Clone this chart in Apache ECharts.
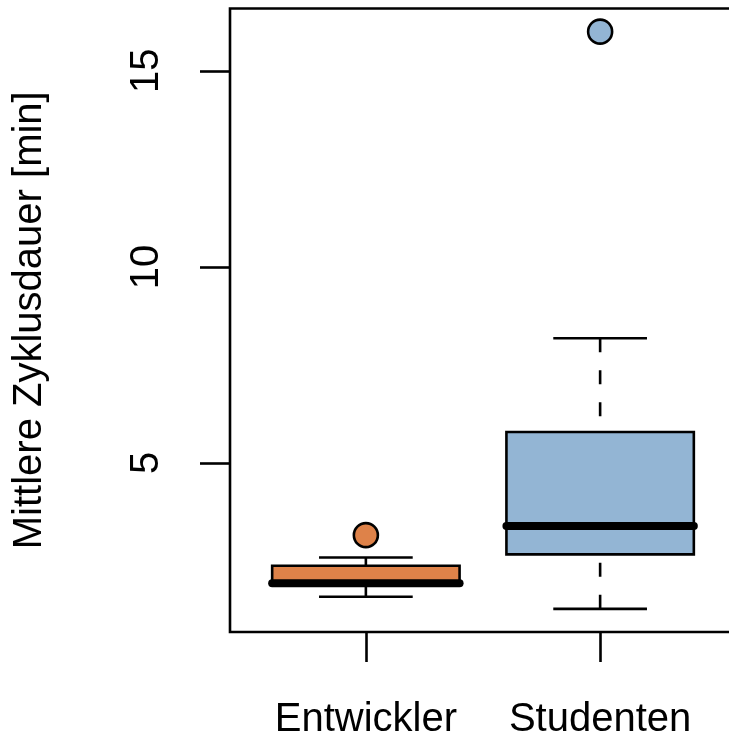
<!DOCTYPE html>
<html>
<head>
<meta charset="utf-8">
<script src="https://cdn.jsdelivr.net/npm/echarts@6/dist/echarts.min.js"></script>
<style>
html,body{margin:0;padding:0;background:#fff;}
#chart{width:729px;height:739px;}
</style>
</head>
<body>
<div id="chart"></div>
<script>
// ---- data ----
var categories = ['Entwickler', 'Studenten'];
var whiskerLow = [1.59, 1.28];
var quartile1 = [1.92, 2.67];
var medians = [1.93, 3.39];
var quartile3 = [2.38, 5.79];
var whiskerHigh = [2.59, 8.18];
var outlierValues = [3.16, 16.0];
var yTickValues = [5, 10, 15];
var yTitle = 'Mittlere Zyklusdauer [min]';

// ---- style ----
var fills = ['#DE8249', '#93B5D4'];
var FONT = '"Liberation Sans", Arial, Helvetica, sans-serif';
var LW = 2.6;

var boxData = categories.map(function (c, i) {
  return [i + 1, whiskerLow[i], quartile1[i], medians[i], quartile3[i], whiskerHigh[i]];
});
var outlierData = categories.map(function (c, i) {
  return { value: [i + 1, outlierValues[i]], itemStyle: { color: fills[i] } };
});

var chart = echarts.init(document.getElementById('chart'), null, { renderer: 'canvas' });
chart.setOption({
  animation: false,
  backgroundColor: '#fff',
  grid: {
    left: 230, top: 8.5, width: 506, height: 623.5,
    outerBoundsMode: 'none', containLabel: false,
    show: true, borderColor: '#000', borderWidth: LW, backgroundColor: 'transparent'
  },
  xAxis: {
    type: 'value', min: 0.42, max: 2.58,
    splitLine: { show: false },
    axisLine: { show: false },
    axisTick: { show: true, customValues: [1, 2], length: 30, lineStyle: { color: '#000', width: LW } },
    axisLabel: {
      customValues: [1, 2], margin: 68,
      formatter: function (v) { return categories[Math.round(v) - 1]; },
      color: '#000', fontSize: 40, fontFamily: FONT
    }
  },
  yAxis: {
    type: 'value', min: 0.69, max: 16.59,
    name: yTitle, nameLocation: 'middle', nameGap: 180, nameRotate: 90,
    nameTextStyle: { color: '#000', fontSize: 40, fontFamily: FONT },
    splitLine: { show: false },
    axisLine: { show: false },
    axisTick: { show: true, customValues: yTickValues, length: 30, lineStyle: { color: '#000', width: LW } },
    axisLabel: {
      customValues: yTickValues, rotate: 90, margin: 63,
      color: '#000', fontSize: 40, fontFamily: FONT
    }
  },
  series: [
    {
      type: 'custom',
      data: boxData,
      clip: false,
      renderItem: function (params, api) {
        var i = params.dataIndex;
        var x = api.value(0);
        var pLo = api.coord([x, api.value(1)]);
        var pQ1 = api.coord([x, api.value(2)]);
        var pMed = api.coord([x, api.value(3)]);
        var pQ3 = api.coord([x, api.value(4)]);
        var pHi = api.coord([x, api.value(5)]);
        var boxW = api.size([0.8, 0])[0];
        var capW = api.size([0.4, 0])[0];
        var cx = pMed[0];
        var st = { stroke: '#000', lineWidth: LW, fill: null };
        var dashSt = { stroke: '#000', lineWidth: LW, lineDash: [14, 18], fill: null };
        return {
          type: 'group',
          children: [
            { type: 'line', shape: { x1: cx, y1: pHi[1], x2: cx, y2: pQ3[1] }, style: dashSt },
            { type: 'line', shape: { x1: cx, y1: pLo[1], x2: cx, y2: pQ1[1] }, style: dashSt },
            { type: 'line', shape: { x1: cx - capW / 2, y1: pHi[1], x2: cx + capW / 2, y2: pHi[1] }, style: st },
            { type: 'line', shape: { x1: cx - capW / 2, y1: pLo[1], x2: cx + capW / 2, y2: pLo[1] }, style: st },
            { type: 'rect', shape: { x: cx - boxW / 2, y: pQ3[1], width: boxW, height: pQ1[1] - pQ3[1] },
              style: { fill: fills[i], stroke: '#000', lineWidth: LW } },
            { type: 'line', shape: { x1: cx - boxW / 2, y1: pMed[1], x2: cx + boxW / 2, y2: pMed[1] },
              style: { stroke: '#000', lineWidth: 8, lineCap: 'round', fill: null } }
          ]
        };
      }
    },
    {
      type: 'scatter',
      data: outlierData,
      symbol: 'circle',
      symbolSize: 24,
      itemStyle: { borderColor: '#000', borderWidth: LW, opacity: 1 }
    }
  ]
});
</script>
</body>
</html>
